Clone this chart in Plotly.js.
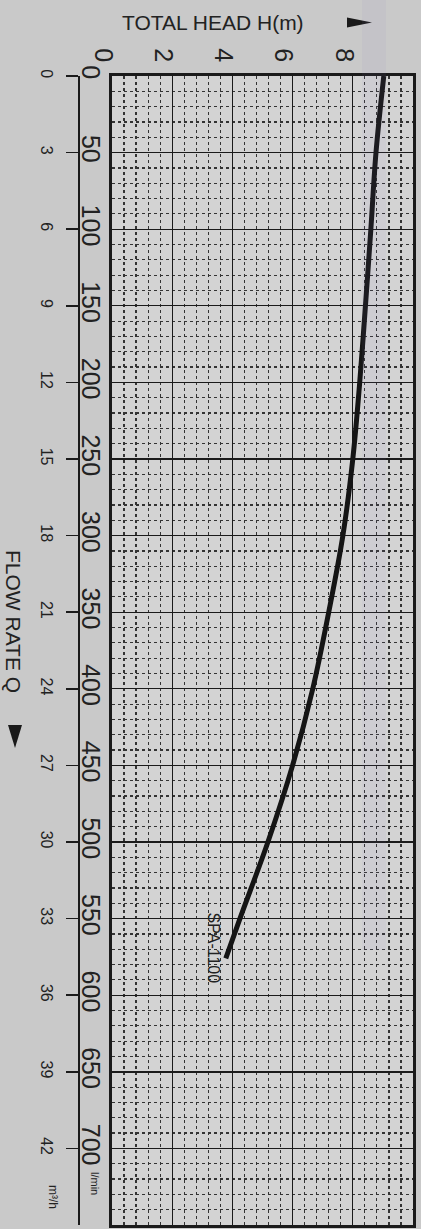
<!DOCTYPE html>
<html>
<head>
<meta charset="utf-8">
<script src="https://cdn.plot.ly/plotly-3.0.1.min.js"></script>
<style>
  html, body { margin: 0; padding: 0; background: #c9c9c9; }
  #chart { width: 421px; height: 1229px; }
</style>
</head>
<body>
<div id="chart"></div>
<script>
// ---- data ----
const curveName = "SPA-1100";
const flowLmin = [0, 50, 100, 150, 200, 250, 300, 350, 400, 450, 500, 550, 576];
const headM    = [9.03, 8.77, 8.6, 8.42, 8.23, 8.0, 7.67, 7.2, 6.67, 6.0, 5.18, 4.25, 3.78];

const headTicks = [0, 2, 4, 6, 8];
const flowTicksLmin = [0, 50, 100, 150, 200, 250, 300, 350, 400, 450, 500, 550, 600, 650, 700];
const flowTicksM3h = [0, 3, 6, 9, 12, 15, 18, 21, 24, 27, 30, 33, 36, 39, 42];

// ---- geometry helpers (pixel -> paper) ----
const W = 421, H = 1229;
const M = {l: 40, r: 8, t: 76, b: 4};
const PW = W - M.l - M.r, PH = H - M.t - M.b;
const px = x => (x - M.l) / PW;
const py = y => (H - M.b - y) / PH;

const FONT = "Liberation Sans, Arial, sans-serif";
const INK = "#1a1a1a";

const curve = {
  x: headM, y: flowLmin, xaxis: "x", yaxis: "y",
  mode: "lines", line: {color: "#151515", width: 5, shape: "spline", smoothing: 1},
  hoverinfo: "skip", showlegend: false
};
// invisible trace so the m3/h axis is created
const m3hHolder = {
  x: headTicks.map(() => null), y: flowTicksM3h.slice(0, headTicks.length),
  xaxis: "x", yaxis: "y2", mode: "markers", marker: {opacity: 0},
  hoverinfo: "skip", showlegend: false
};

const layout = {
  width: W, height: H, margin: M,
  paper_bgcolor: "#c9c9c9", plot_bgcolor: "#d3d3d3",
  showlegend: false,
  xaxis: {
    domain: [px(112), 1], range: [0, 10], side: "top",
    tickmode: "array", tickvals: headTicks, ticktext: headTicks.map(String),
    tickangle: 90, tickfont: {family: FONT, size: 25, color: "#222"},
    ticks: "", ticklabelstandoff: 2, ticklabelshift: -9,
    showgrid: true, gridcolor: INK, gridwidth: 1.4,
    minor: {dtick: 0.4, tick0: 0, showgrid: true, gridcolor: "#333", griddash: "dot", gridwidth: 1.2},
    showline: true, mirror: true, linecolor: INK, linewidth: 3, zeroline: false, fixedrange: true
  },
  yaxis: {
    domain: [0, 1], range: [750, 0],
    tickmode: "array", tickvals: flowTicksLmin, ticktext: flowTicksLmin.map(String),
    tickangle: 90, tickfont: {family: FONT, size: 25, color: "#222"},
    ticks: "", ticklabelstandoff: -3,
    showgrid: true, gridcolor: INK, gridwidth: 1.4,
    minor: {dtick: 10, tick0: 0, showgrid: true, gridcolor: "#333", griddash: "dot", gridwidth: 1.2},
    showline: true, mirror: true, linecolor: INK, linewidth: 3, zeroline: false, fixedrange: true
  },
  yaxis2: {
    overlaying: "y", anchor: "free", position: px(78), side: "left",
    range: [45, 0],
    tickmode: "array", tickvals: flowTicksM3h, ticktext: flowTicksM3h.map(String),
    tickangle: 90, tickfont: {family: FONT, size: 16, color: "#222"},
    ticks: "outside", ticklen: 12, tickwidth: 1.5, tickcolor: INK, ticklabelstandoff: 6,
    showline: true, linecolor: INK, linewidth: 1.5, showgrid: false, zeroline: false, fixedrange: true
  },
  shapes: [
    // head-axis arrow
    {type: "path", xref: "paper", yref: "paper",
     path: `M ${px(347)},${py(17.5)} L ${px(372)},${py(22.5)} L ${px(347)},${py(27.5)} Z`,
     fillcolor: INK, line: {width: 0}},
    // flow-axis arrow
    {type: "path", xref: "paper", yref: "paper",
     path: `M ${px(8)},${py(725)} L ${px(22)},${py(725)} L ${px(15)},${py(748)} Z`,
     fillcolor: INK, line: {width: 0}},
    // faint scan band
    {type: "rect", xref: "paper", yref: "paper", layer: "above",
     x0: px(362), x1: px(386), y0: py(950), y1: py(0),
     fillcolor: "rgba(140,130,200,0.07)", line: {width: 0}}
  ],
  annotations: [
    {xref: "paper", yref: "paper", x: px(213), y: py(23), text: "TOTAL HEAD H(m)",
     showarrow: false, xanchor: "center", yanchor: "middle",
     font: {family: FONT, size: 21, color: "#222"}},
    {xref: "paper", yref: "paper", x: px(14), y: py(621), text: "FLOW RATE Q",
     showarrow: false, textangle: 90, xanchor: "center", yanchor: "middle",
     font: {family: FONT, size: 21, color: "#222"}},
    {xref: "paper", yref: "paper", x: px(95), y: py(1183), text: "l/min",
     showarrow: false, textangle: 90, xanchor: "center", yanchor: "middle",
     font: {family: FONT, size: 11, color: "#222"}},
    {xref: "paper", yref: "paper", x: px(53), y: py(1197), text: "m³/h",
     showarrow: false, textangle: 90, xanchor: "center", yanchor: "middle",
     font: {family: FONT, size: 12, color: "#222"}},
    {xref: "x", yref: "y", x: 3.36, y: 569, text: curveName,
     showarrow: false, textangle: 90, xanchor: "center", yanchor: "middle",
     font: {family: "Liberation Sans Narrow, " + FONT, size: 16, color: "#222"}}
  ]
};

Plotly.newPlot("chart", [curve, m3hHolder], layout, {displayModeBar: false, staticPlot: true});
</script>
</body>
</html>
